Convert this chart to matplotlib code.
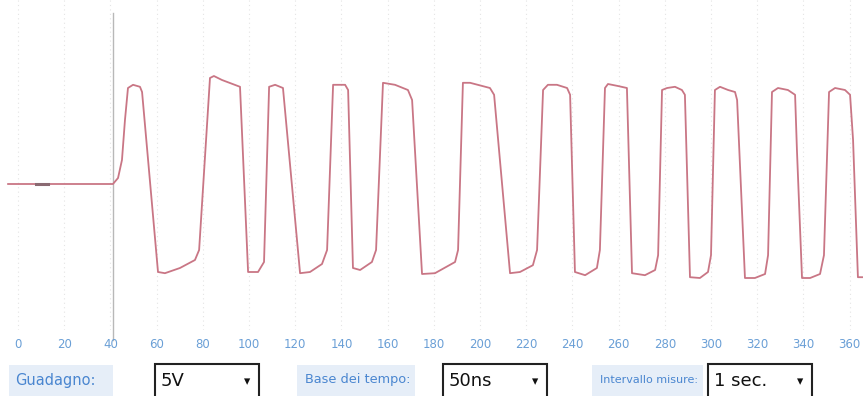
import matplotlib
matplotlib.use("Agg")
import matplotlib.pyplot as plt
from matplotlib.patches import Rectangle

# Traccia dell'oscilloscopio (tempo in ns, tensione in V)
tempo_ns = [-4.3, 41.1, 43.3, 45.0, 46.3, 47.6, 49.8, 52.8, 53.7, 60.6, 63.6, 70.1, 76.6, 78.4,
            83.1, 84.8, 88.3, 96.1, 99.6, 103.9, 106.5, 108.7, 111.3, 114.7, 122.1, 126.4,
            131.6, 133.8, 136.4, 141.6, 142.9, 145.0, 148.1, 153.2, 155.0, 158.0, 163.2,
            168.8, 170.6, 174.9, 180.5, 189.2, 190.5, 192.6, 195.7, 204.3, 206.1, 213.0,
            217.3, 222.9, 224.7, 227.3, 229.4, 233.3, 237.7, 239.0, 241.1, 245.5, 250.6,
            251.9, 254.1, 255.4, 259.7, 263.6, 265.8, 271.4, 275.8, 277.1, 278.8, 281.0,
            284.4, 287.4, 288.7, 290.9, 295.2, 298.7, 300.0, 301.7, 303.9, 307.4, 310.4,
            311.3, 314.7, 319.0, 323.4, 324.7, 326.4, 329.0, 333.3, 336.4, 337.2, 339.4,
            342.9, 347.2, 348.9, 351.1, 353.7, 358.0, 360.2, 361.5, 363.6, 365.4]
tensione_v = [0.0, 0.0, 0.15, 0.6, 1.6, 2.4, 2.48, 2.43, 2.3, -2.2, -2.23, -2.1, -1.9, -1.65,
              2.65, 2.7, 2.6, 2.43, -2.2, -2.2, -1.95, 2.43, 2.48, 2.4, -2.23, -2.2,
              -2.0, -1.65, 2.48, 2.48, 2.35, -2.1, -2.15, -1.95, -1.65, 2.53, 2.48,
              2.35, 2.1, -2.25, -2.23, -1.95, -1.65, 2.53, 2.53, 2.4, 2.23, -2.23,
              -2.2, -2.03, -1.65, 2.35, 2.48, 2.48, 2.4, 2.23, -2.2, -2.28, -2.1,
              -1.65, 2.4, 2.5, 2.45, 2.4, -2.23, -2.28, -2.15, -1.78, 2.35, 2.4,
              2.43, 2.35, 2.23, -2.33, -2.35, -2.2, -1.78, 2.35, 2.43, 2.35, 2.3,
              2.1, -2.35, -2.35, -2.25, -1.78, 2.3, 2.4, 2.35, 2.23, 0.85, -2.35,
              -2.35, -2.25, -1.78, 2.3, 2.4, 2.35, 2.23, 1.1, -2.33, -2.33]

trigger_ns = 41
tick_valori = list(range(0, 361, 20))

# Controlli sotto il grafico: etichetta, valore, x etichetta, dimensione testo, sfondo, x box
controlli = [("Guadagno:", "5V", 15, 10.5, (9, 104), 155),
             ("Base dei tempo:", "50ns", 305, 9.3, (297, 118), 443),
             ("Intervallo misure:", "1 sec.", 600, 8.0, (592, 111), 708)]

W, H = 863, 396
fig = plt.figure(figsize=(W / 100, H / 100), dpi=100)
fig.patch.set_facecolor("white")

ax = fig.add_axes([0, 1 - 330 / H, 1, 330 / H])
ax.set_xlim(-7.8, 365.8)
ax.set_ylim(-3.65, 4.6)
for s in ax.spines.values():
    s.set_visible(False)

# griglia tenue
for t in tick_valori:
    ax.axvline(t, color="#e4e4e4", lw=0.8, ls=(0, (1, 3)), zorder=0)
ax.axvline(trigger_ns, color="#b8b8b8", lw=1.0, ymin=-0.03, ymax=0.96,
           clip_on=False, zorder=1)

ax.plot(tempo_ns, tensione_v, color="#c97685", lw=1.3, zorder=3)
ax.plot([8, 13], [0, 0], color="#8a6a72", lw=2.2, zorder=4)

ax.set_yticks([])
ax.set_xticks(tick_valori)
ax.set_xticklabels([str(t) for t in tick_valori], fontsize=8.5, color="#6a9fd6")
ax.tick_params(axis="x", length=0, pad=6)

# barra dei controlli
for etichetta, valore, xl, fs, (bx, bw), xb in controlli:
    fig.patches.append(Rectangle((bx / W, 0), bw / W, 31 / H,
                                 transform=fig.transFigure, facecolor="#e6eef8",
                                 edgecolor="none", zorder=0))
    fig.text(xl / W, 1 - 380 / H, etichetta, fontsize=fs, color="#4a86d0",
             va="center", ha="left")
    fig.patches.append(Rectangle((xb / W, -0.02), 104 / W, (0.02 + 32 / H),
                                 transform=fig.transFigure, facecolor="white",
                                 edgecolor="#222222", lw=1.5, zorder=1))
    fig.text((xb + 6) / W, 1 - 381 / H, valore, fontsize=13, color="#111111",
             va="center", ha="left", zorder=2)
    fig.text((xb + 92) / W, 1 - 382 / H, "\u25BE", fontsize=9, color="#111111",
             va="center", ha="center", zorder=2)

fig.savefig("out.png", dpi=100, facecolor="white")
